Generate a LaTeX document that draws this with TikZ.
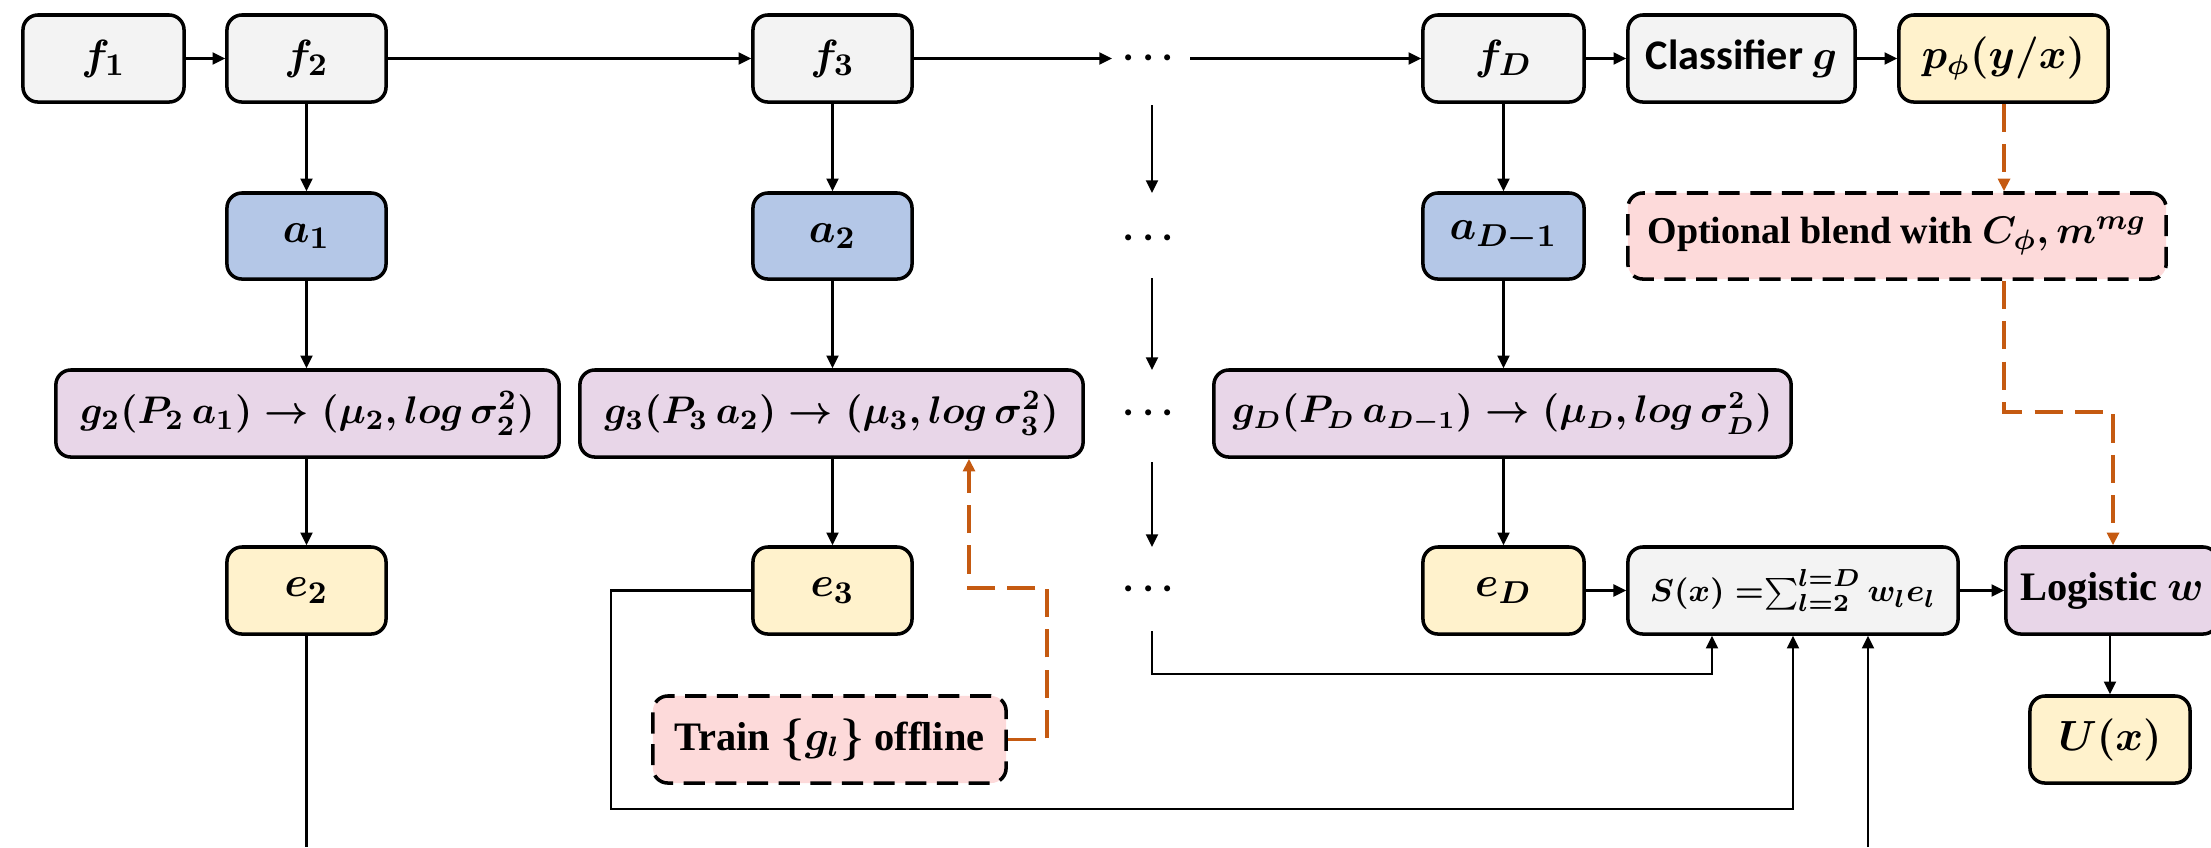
\documentclass[tikz,border=0pt]{standalone}
\usepackage{amsmath}
\usepackage{fontspec}
\newfontfamily\calib{Carlito}
\newfontfamily\tserif{Liberation Serif}
\usetikzlibrary{arrows.meta}

\definecolor{boxgray}{HTML}{F3F3F3}
\definecolor{boxblue}{HTML}{B4C7E7}
\definecolor{boxlilac}{HTML}{E8D6E8}
\definecolor{boxyellow}{HTML}{FFF2CC}
\definecolor{boxpink}{HTML}{FDDADA}
\definecolor{flowor}{HTML}{C55A11}

\tikzset{
  blk/.style={draw, line width=1pt, rounded corners=0.15cm, minimum height=0.87cm,
    inner sep=0pt, align=center, font=\fontsize{12.5}{15}\selectfont\bfseries\boldmath},
  gbox/.style={blk, fill=boxgray},
  bbox/.style={blk, fill=boxblue},
  lbox/.style={blk, fill=boxlilac},
  ybox/.style={blk, fill=boxyellow},
  pbox/.style={blk, fill=boxpink, dash pattern=on 6pt off 3pt},
  sz/.style={font=\fontsize{#1}{15}\selectfont\bfseries\boldmath},
  wordy/.style={font=\fontsize{#1}{15}\selectfont\tserif\bfseries\boldmath},
  dotsnode/.style={inner sep=0pt, font=\fontsize{11}{13}\selectfont\boldmath},
  conn/.style={line width=0.6pt, -{Triangle[length=3.6pt,width=3.4pt]}},
  plain/.style={line width=0.6pt},
  ornge/.style={draw=flowor, line width=0.9pt, dash pattern=on 8pt off 3.5pt,
    -{Triangle[length=3.6pt,width=3.4pt,fill=flowor]}},
}

\begin{document}
\boldmath
\begin{tikzpicture}[x=0.01cm, y=-0.01cm]
\useasboundingbox (0,0) rectangle (2211,847);

% feature extractor chain
\node[gbox, minimum width=1.61cm] (f1) at (103.5,58.5) {$f_1$};
\node[gbox, minimum width=1.59cm] (f2) at (306.5,58.5) {$f_2$};
\node[gbox, minimum width=1.59cm] (f3) at (832.5,58.5) {$f_3$};
\node[dotsnode] (df) at (1152,58) {$\cdots$};
\node[gbox, minimum width=1.61cm] (fD) at (1503.5,58.5) {$f_D$};
\node[gbox, minimum width=2.27cm, sz=12] (cls) at (1741.5,58.5) {\calib Classifier $g$};
\node[ybox, minimum width=2.09cm, sz=11.5] (pp) at (2003.5,58.5) {$p_{\phi}(y/x)$};

% activations
\node[bbox, minimum width=1.59cm, minimum height=0.86cm] (a1) at (306.5,236) {$a_1$};
\node[bbox, minimum width=1.59cm, minimum height=0.86cm] (a2) at (832.5,236) {$a_2$};
\node[dotsnode] (da) at (1152,238) {$\cdots$};
\node[bbox, minimum width=1.61cm, minimum height=0.86cm] (aD) at (1503.5,236) {$a_{D-1}$};
\node[pbox, wordy=10.8, minimum width=5.38cm, minimum height=0.86cm] (bl) at (1897,236) {Optional blend with $C_{\phi}, m^{mg}$};

% per-layer heads
\node[lbox, sz=11, minimum width=5.03cm] (g2) at (307.5,413.5) {$g_2(P_2\,a_1) \to (\mu_2, log\,\sigma_2^2)$};
\node[lbox, sz=11, minimum width=5.03cm] (g3) at (831.5,413.5) {$g_3(P_3\,a_2) \to (\mu_3, log\,\sigma_3^2)$};
\node[dotsnode] (dg) at (1152,413) {$\cdots$};
\node[lbox, sz=10.5, minimum width=5.77cm] (gD) at (1502.5,413.5) {$g_D(P_D\,a_{D-1}) \to (\mu_D, log\,\sigma_D^2)$};

% per-layer scores
\node[ybox, minimum width=1.59cm] (e2) at (306.5,590.5) {$e_2$};
\node[ybox, minimum width=1.59cm] (e3) at (832.5,590.5) {$e_3$};
\node[dotsnode] (de) at (1152,589) {$\cdots$};
\node[ybox, minimum width=1.61cm] (eD) at (1503.5,590.5) {$e_D$};
\node[gbox, sz=9.5, minimum width=3.30cm] (S) at (1793,590.5) {$S(x)\;{=}\!\sum_{l=2}^{l=D} w_l e_l$};
\node[lbox, wordy=11.5, minimum width=2.12cm] (lg) at (2112,590.5) {Logistic $w$};
\node[ybox, sz=12, minimum width=1.60cm] (U) at (2110,739.5) {$U(x)$};
\node[pbox, wordy=11.5, minimum width=3.53cm] (tr) at (829.5,739.5) {Train $\{g_l\}$ offline};

% helper points
\coordinate (dfin) at (1112,58.5);
\coordinate (dfout) at (1190,58.5);
\coordinate (dv1a) at (1152,105);
\coordinate (dv1b) at (1152,193);
\coordinate (dv2a) at (1152,278);
\coordinate (dv2b) at (1152,370);
\coordinate (dv3a) at (1152,462);
\coordinate (dv3b) at (1152,547);
\coordinate (dv4a) at (1152,631);
\coordinate (e2end) at (306.5,847);
\coordinate (sbot) at (1868,847);

% horizontal chain
\draw[conn] (f1) -- (f2);
\draw[conn] (f2) -- (f3);
\draw[conn] (f3) -- (dfin);
\draw[conn] (dfout) -- (fD);
\draw[conn] (fD) -- (cls);
\draw[conn] (cls) -- (pp);

% vertical flow
\draw[conn] (f2) -- (a1);
\draw[conn] (f3) -- (a2);
\draw[conn] (fD) -- (aD);
\draw[conn] (dv1a) -- (dv1b);
\draw[conn] (a1) -- (a1 |- g2.north);
\draw[conn] (a2) -- (a2 |- g3.north);
\draw[conn] (aD) -- (aD |- gD.north);
\draw[conn] (dv2a) -- (dv2b);
\draw[conn] (g2.south -| e2) -- (e2);
\draw[conn] (g3.south -| e3) -- (e3);
\draw[conn] (gD.south -| eD) -- (eD);
\draw[conn] (dv3a) -- (dv3b);

% inputs to the weighted sum
\draw[plain] (e2) -- (e2end);
\draw[conn] (e3.west) -- (611,590.5) -- (611,809) -- (1793,809) -- (S.south);
\draw[conn] (dv4a) -- (1152,674) -- (1712,674) -- (S.south -| 1712,0);
\draw[conn] (sbot) -- (S.south -| sbot);
\draw[conn] (eD) -- (S);
\draw[conn] (S) -- (lg);
\draw[conn] (lg.south -| U) -- (U);

% optional / offline paths
\draw[ornge] (pp.south -| 2004,0) -- (bl.north -| 2004,0);
\draw[ornge] (bl.south -| 2004,0) -- (2004,412) -- (2113,412) -- (lg.north -| 2113,0);
\draw[ornge] (tr.east) -- (1047,739.5) -- (1047,588) -- (969,588) -- (g3.south -| 969,0);
\end{tikzpicture}
\end{document}
